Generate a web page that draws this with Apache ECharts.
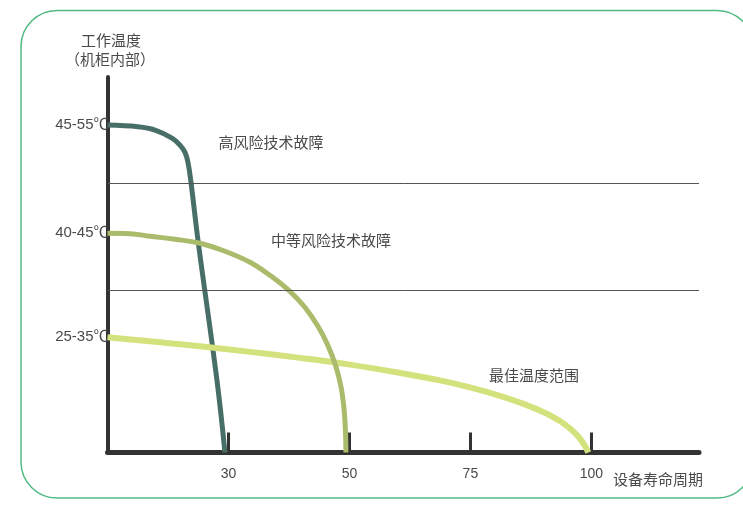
<!DOCTYPE html>
<html><head><meta charset="utf-8">
<script src="https://cdn.jsdelivr.net/npm/echarts@6/dist/echarts.min.js"></script>
<style>html,body{margin:0;padding:0;background:#fff}#c{width:743px;height:507px}</style>
</head><body><div id="c"></div>
<script>
// x positions are tick indices (1..4 => labels below); y in relative temperature units (0-100)
const xTickValues = [1, 2, 3, 4];
const xTickLabels = ['30', '50', '75', '100'];
const yTickValues = [87.2, 58.4, 30.7];
const yTickLabels = ['45-55℃', '40-45℃', '25-35℃'];
const zoneBounds = [71.7, 43.2];
const highRisk = [[0,87.2],[0.252,86.75],[0.393,85.87],[0.533,83.73],[0.599,81.87],[0.640,80.0],[0.665,77.33],[0.690,72.0],[0.748,56.53],[0.905,19.2],[0.971,0]];
const midRisk = [[0,58.4],[0.186,58.27],[0.351,57.6],[0.558,56.8],[0.764,55.73],[0.971,53.6],[1.178,50.67],[1.343,47.2],[1.508,42.93],[1.632,38.67],[1.740,33.6],[1.822,28.53],[1.888,22.93],[1.930,17.6],[1.955,11.73],[1.967,5.87],[1.971,0]];
const optimal = [[0,30.67],[0.351,29.6],[0.764,28.27],[1.178,26.8],[1.591,25.2],[2.004,23.4],[2.417,21.2],[2.748,19.2],[2.996,17.33],[3.244,15.09],[3.450,12.83],[3.616,10.59],[3.740,8.4],[3.831,6.19],[3.897,4.05],[3.946,1.81],[3.975,0]];
const seriesNames = ['高风险技术故障', '中等风险技术故障', '最佳温度范围'];

const font = "'Liberation Sans', 'Noto Sans CJK SC', sans-serif";
const cjk = "15px 'Noto Sans CJK SC', sans-serif";
const txt = '#4a4a4a';
const chart = echarts.init(document.getElementById('c'), null, {renderer: 'canvas'});
function lookup(vals, labels, v) {
  let best = 0;
  for (let i = 1; i < vals.length; i++) if (Math.abs(vals[i] - v) < Math.abs(vals[best] - v)) best = i;
  return labels[best];
}
chart.setOption({
  animation: false,
  grid: {left: 107.5, right: 44, top: 77, bottom: 54.5},
  xAxis: {
    type: 'value', min: 0, max: 4.89,
    axisLine: {show: true, lineStyle: {color: '#333', width: 5}},
    axisTick: {show: true, inside: true, length: 20, lineStyle: {color: '#333', width: 3}, customValues: xTickValues},
    axisLabel: {customValues: xTickValues, formatter: v => lookup(xTickValues, xTickLabels, v), color: txt, fontSize: 14, fontFamily: font, margin: 15},
    splitLine: {show: false}
  },
  yAxis: {
    type: 'value', min: 0, max: 100,
    axisLine: {show: true, onZero: false, lineStyle: {color: '#333', width: 4}},
    axisTick: {show: false},
    axisLabel: {customValues: yTickValues, formatter: v => lookup(yTickValues, yTickLabels, v), color: txt, fontSize: 15, fontFamily: font, margin: -1},
    splitLine: {show: false}
  },
  series: [
    {name: seriesNames[0], type: 'line', data: highRisk, smooth: 0.4, symbol: 'none', z: 2,
     lineStyle: {color: '#486E68', width: 5},
     markLine: {silent: true, symbol: 'none', label: {show: false}, lineStyle: {color: '#555', width: 1, type: 'solid'},
       data: zoneBounds.map(v => ({yAxis: v}))}},
    {name: seriesNames[2], type: 'line', data: optimal, smooth: 0.4, symbol: 'none', z: 3,
     lineStyle: {color: '#D4E27D', width: 6}},
    {name: seriesNames[1], type: 'line', data: midRisk, smooth: 0.4, symbol: 'none', z: 4,
     lineStyle: {color: '#AABB6B', width: 5}}
  ],
  graphic: [
    {type: 'rect', shape: {x: 21, y: 10.5, width: 732, height: 487.5, r: 36}, style: {fill: 'none', stroke: '#50B982', lineWidth: 1.5}, z: -1},
    {type: 'text', x: 111, y: 40, style: {text: '工作温度', fill: txt, font: cjk, align: 'center', verticalAlign: 'middle'}},
    {type: 'text', x: 110, y: 59, style: {text: '（机柜内部）', fill: txt, font: cjk, align: 'center', verticalAlign: 'middle'}},
    {type: 'text', x: 271, y: 142, style: {text: seriesNames[0], fill: txt, font: cjk, align: 'center', verticalAlign: 'middle'}},
    {type: 'text', x: 331, y: 240, style: {text: seriesNames[1], fill: txt, font: cjk, align: 'center', verticalAlign: 'middle'}},
    {type: 'text', x: 534, y: 375, style: {text: seriesNames[2], fill: txt, font: cjk, align: 'center', verticalAlign: 'middle'}},
    {type: 'text', x: 658, y: 479, style: {text: '设备寿命周期', fill: txt, font: cjk, align: 'center', verticalAlign: 'middle'}}
  ]
});
</script></body></html>
